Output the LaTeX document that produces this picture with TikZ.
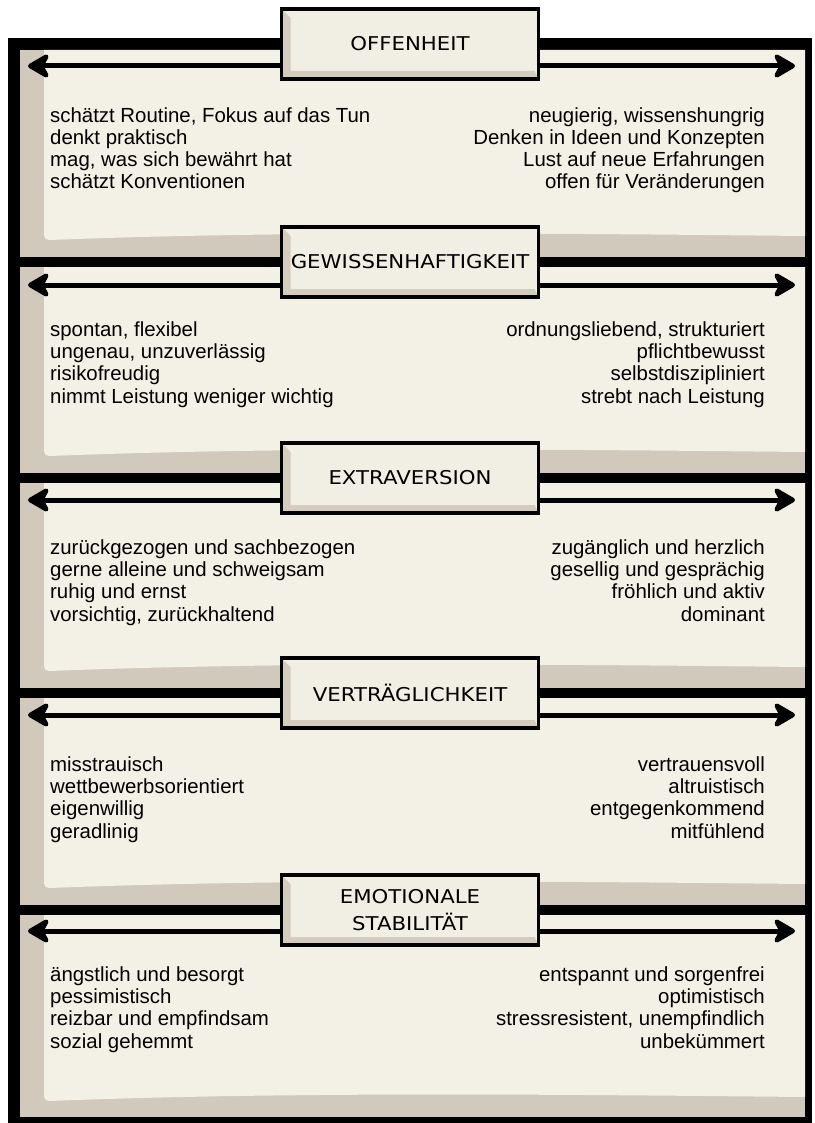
\documentclass[tikz,border=0pt]{standalone}
\usepackage{fontspec}
\setmainfont{Liberation Sans}
\newfontfamily\titlefont[FakeStretch=1.12]{DejaVu Sans}
\usetikzlibrary{arrows.meta}

\definecolor{sheet}{HTML}{F3F0E6}
\definecolor{backing}{HTML}{D1C9BB}
\definecolor{boxfill}{HTML}{F1EEE3}
\definecolor{bevel}{HTML}{D3CCBF}

\begin{document}
\begin{tikzpicture}[x=1pt,y=-1pt,
  axis/.style={line width=5pt,{Stealth[length=26pt,width=30pt,inset=8pt,round]}-{Stealth[length=26pt,width=30pt,inset=8pt,round]}},
  traitbox/.style={draw=black,line width=3.5pt,fill=boxfill,minimum width=257pt,minimum height=70pt,inner sep=0pt,align=center,
    font=\titlefont\fontsize{19}{27}\selectfont,
    path picture={\fill[bevel] (path picture bounding box.north west) -- ++(9,9) |- ([xshift=-4pt,yshift=8pt]path picture bounding box.south east)
      -- (path picture bounding box.south east) -- (path picture bounding box.south west) -- cycle;}},
  leftlist/.style={anchor=base west,align=left,inner sep=0pt,font=\fontsize{20.4}{22.3}\selectfont},
  rightlist/.style={anchor=base east,align=right,inner sep=0pt,font=\fontsize{20.4}{22.3}\selectfont}]
\useasboundingbox (0,0) rectangle (814,1123);
\fill[white] (0,0) rectangle (814,1123);

% frame and panels
\fill[black] (8,38) rectangle (812,1123);
\fill[backing] (20,50) rectangle (805,257);
\fill[backing] (20,267) rectangle (805,473);
\fill[backing] (20,483) rectangle (805,688);
\fill[backing] (20,698) rectangle (805,905);
\fill[backing] (20,915) rectangle (805,1117);
\fill[sheet] (44,50) -- (805,50) -- (805,236) .. controls (600,234) and (300,230) .. (50,240) .. controls (46,240) and (44,238) .. (44,234) -- cycle;
\fill[sheet] (44,267) -- (805,267) -- (805,452) .. controls (600,450) and (300,446) .. (50,456) .. controls (46,456) and (44,454) .. (44,450) -- cycle;
\fill[sheet] (44,483) -- (805,483) -- (805,667) .. controls (600,665) and (300,661) .. (50,671) .. controls (46,671) and (44,669) .. (44,665) -- cycle;
\fill[sheet] (44,698) -- (805,698) -- (805,884) .. controls (600,882) and (300,878) .. (50,888) .. controls (46,888) and (44,886) .. (44,882) -- cycle;
\fill[sheet] (44,915) -- (805,915) -- (805,1097) .. controls (600,1095) and (300,1091) .. (50,1101) .. controls (46,1101) and (44,1099) .. (44,1095) -- cycle;

% arrows
\coordinate (l1) at (28,66);  \coordinate (r1) at (795,66);
\coordinate (l2) at (28,285); \coordinate (r2) at (795,285);
\coordinate (l3) at (28,500); \coordinate (r3) at (795,500);
\coordinate (l4) at (28,715); \coordinate (r4) at (795,715);
\coordinate (l5) at (28,931); \coordinate (r5) at (795,931);
\draw[axis] (l1) -- (r1);
\draw[axis] (l2) -- (r2);
\draw[axis] (l3) -- (r3);
\draw[axis] (l4) -- (r4);
\draw[axis] (l5) -- (r5);

% trait boxes
\node[traitbox] (offen) at (410,44) {OFFENHEIT};
\node[traitbox] (gewiss) at (410,262) {GEWISSENHAFTIGKEIT};
\node[traitbox] (extra) at (410,478) {EXTRAVERSION};
\node[traitbox] (vertr) at (410,693) {VERTRÄGLICHKEIT};
\node[traitbox] (emo) at (410,910) {EMOTIONALE\\STABILITÄT};

% poles (base = last line)
\node[leftlist] (offenL) at (50,189) {schätzt Routine, Fokus auf das Tun\\denkt praktisch\\mag, was sich bewährt hat\\schätzt Konventionen};
\node[rightlist] (offenR) at (765,189) {neugierig, wissenshungrig\\Denken in Ideen und Konzepten\\Lust auf neue Erfahrungen\\offen für Veränderungen};
\node[leftlist] (gewissL) at (50,403) {spontan, flexibel\\ungenau, unzuverlässig\\risikofreudig\\nimmt Leistung weniger wichtig};
\node[rightlist] (gewissR) at (765,403) {ordnungsliebend, strukturiert\\pflichtbewusst\\selbstdiszipliniert\\strebt nach Leistung};
\node[leftlist] (extraL) at (50,621) {zurückgezogen und sachbezogen\\gerne alleine und schweigsam\\ruhig und ernst\\vorsichtig, zurückhaltend};
\node[rightlist] (extraR) at (765,621) {zugänglich und herzlich\\gesellig und gesprächig\\fröhlich und aktiv\\dominant};
\node[leftlist] (vertrL) at (50,838) {misstrauisch\\wettbewerbsorientiert\\eigenwillig\\geradlinig};
\node[rightlist] (vertrR) at (765,838) {vertrauensvoll\\altruistisch\\entgegenkommend\\mitfühlend};
\node[leftlist] (emoL) at (50,1048) {ängstlich und besorgt\\pessimistisch\\reizbar und empfindsam\\sozial gehemmt};
\node[rightlist] (emoR) at (765,1048) {entspannt und sorgenfrei\\optimistisch\\stressresistent, unempfindlich\\unbekümmert};
\end{tikzpicture}
\end{document}
